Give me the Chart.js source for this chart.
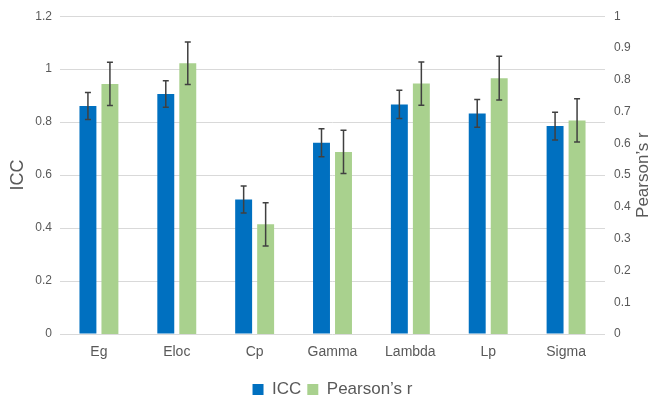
<!DOCTYPE html>
<html>
<head>
<meta charset="utf-8">
<script src="https://cdn.jsdelivr.net/npm/chart.js@4"></script>
<style>
  html, body { margin: 0; padding: 0; background: #fff; }
  #wrap { width: 654px; height: 399px; }
</style>
</head>
<body>
<div id="wrap"><canvas id="iccChart"></canvas></div>
<script>
// data
const categories = ['Eg', 'Eloc', 'Cp', 'Gamma', 'Lambda', 'Lp', 'Sigma'];
const iccValues = [0.861, 0.906, 0.508, 0.722, 0.867, 0.833, 0.785];
const iccErrors = [0.051, 0.050, 0.051, 0.053, 0.053, 0.052, 0.052];
const pearsonValues = [0.787, 0.852, 0.345, 0.573, 0.788, 0.805, 0.672];
const pearsonErrors = [0.068, 0.067, 0.068, 0.068, 0.068, 0.069, 0.068];
const iccTicks = [0, 0.2, 0.4, 0.6, 0.8, 1, 1.2];
const pearsonTicks = [0, 0.1, 0.2, 0.3, 0.4, 0.5, 0.6, 0.7, 0.8, 0.9, 1];

const textColor = '#595959';
const fontFamily = '"Liberation Sans", Arial, sans-serif';
const fmt = v => String(Number(v.toFixed(1)));

// whiskers on top of each bar
const errorBars = {
  id: 'errorBars',
  afterDatasetsDraw(chart) {
    const ctx = chart.ctx;
    ctx.save();
    ctx.strokeStyle = '#404040';
    ctx.lineWidth = 1.5;
    chart.data.datasets.forEach((ds, i) => {
      const meta = chart.getDatasetMeta(i);
      const yScale = chart.scales[meta.yAxisID];
      meta.data.forEach((bar, j) => {
        const v = ds.data[j];
        const e = ds.errors[j];
        const yTop = yScale.getPixelForValue(v + e);
        const yBot = yScale.getPixelForValue(v - e);
        ctx.beginPath();
        ctx.moveTo(bar.x, yTop);
        ctx.lineTo(bar.x, yBot);
        ctx.moveTo(bar.x - 3, yTop);
        ctx.lineTo(bar.x + 3, yTop);
        ctx.moveTo(bar.x - 3, yBot);
        ctx.lineTo(bar.x + 3, yBot);
        ctx.stroke();
      });
    });
    ctx.restore();
  }
};

// right axis title reads bottom-to-top like the left one
const rightTitle = {
  id: 'rightTitle',
  afterDraw(chart) {
    const ctx = chart.ctx;
    const area = chart.chartArea;
    ctx.save();
    ctx.translate(643, (area.top + area.bottom) / 2);
    ctx.rotate(-Math.PI / 2);
    ctx.fillStyle = textColor;
    ctx.font = '17px ' + fontFamily;
    ctx.textAlign = 'center';
    ctx.textBaseline = 'middle';
    ctx.fillText('Pearson\u2019s r', 0, 0);
    ctx.restore();
  }
};

new Chart(document.getElementById('iccChart').getContext('2d'), {
  type: 'bar',
  data: {
    labels: categories,
    datasets: [{
      label: 'ICC',
      data: iccValues,
      errors: iccErrors,
      backgroundColor: '#0070C0',
      yAxisID: 'y'
    }, {
      label: 'Pearson\u2019s r',
      data: pearsonValues,
      errors: pearsonErrors,
      backgroundColor: '#A9D18E',
      yAxisID: 'y1'
    }]
  },
  options: {
    responsive: true,
    maintainAspectRatio: false,
    animation: false,
    categoryPercentage: 0.565,
    barPercentage: 0.77,
    layout: { padding: { top: 16, bottom: -9, left: 0, right: 0 } },
    scales: {
      x: {
        grid: { display: false, drawTicks: false, tickLength: 0 },
        border: { display: false },
        ticks: { color: textColor, font: { size: 14, family: fontFamily }, padding: 10 },
        afterFit: s => { s.height = 41; }
      },
      y: {
        position: 'left',
        min: 0,
        max: 1.2,
        afterBuildTicks: s => { s.ticks = iccTicks.map(v => ({ value: v })); },
        grid: { color: '#d9d9d9', drawTicks: false },
        border: { display: false },
        ticks: { color: textColor, font: { size: 12, family: fontFamily }, padding: 8, callback: fmt },
        title: {
          display: true,
          text: 'ICC',
          color: textColor,
          font: { size: 18, family: fontFamily },
          padding: { top: 7, bottom: 0 }
        },
        afterFit: s => { s.width = 60; }
      },
      y1: {
        position: 'right',
        min: 0,
        max: 1,
        afterBuildTicks: s => { s.ticks = pearsonTicks.map(v => ({ value: v })); },
        grid: { display: false, drawTicks: false, tickLength: 0 },
        border: { display: false },
        ticks: { color: textColor, font: { size: 12, family: fontFamily }, padding: 9, callback: fmt },
        afterFit: s => { s.width = 49; }
      }
    },
    plugins: {
      legend: {
        position: 'bottom',
        fullSize: false,
        labels: {
          boxWidth: 11,
          boxHeight: 11,
          padding: 6,
          color: textColor,
          font: { size: 17, family: fontFamily }
        }
      },
      tooltip: { enabled: false }
    }
  },
  plugins: [errorBars, rightTitle]
});
</script>
</body>
</html>
